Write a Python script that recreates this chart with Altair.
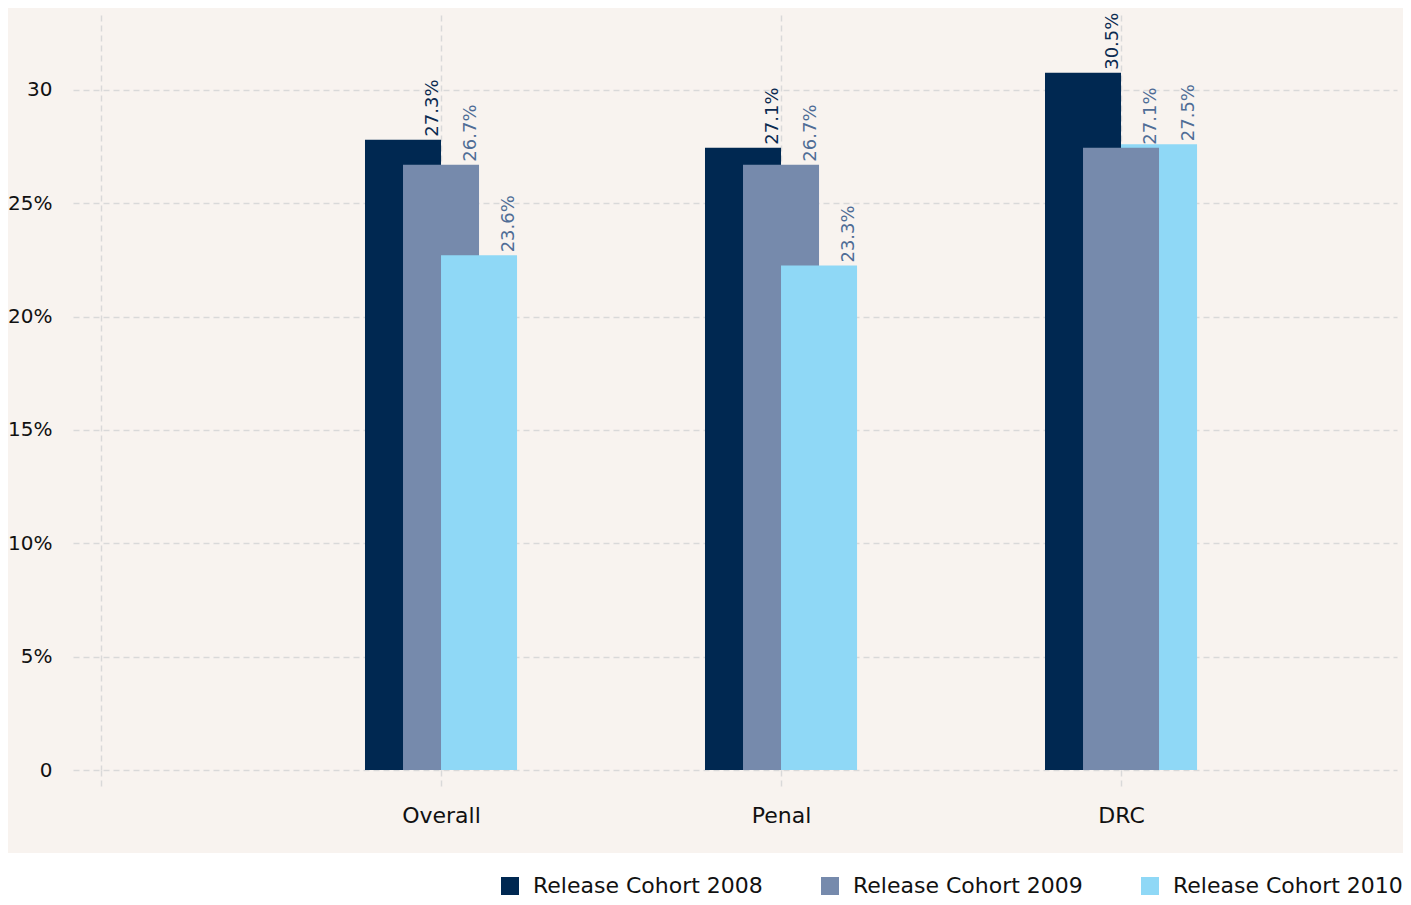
import altair as alt
import pandas as pd

# ---- data ----
categories = ["Overall", "Penal", "DRC"]
series = ["Release Cohort 2008", "Release Cohort 2009", "Release Cohort 2010"]
bar_2008 = [27.8, 27.45, 30.75]
bar_2009 = [26.7, 26.7, 27.45]
bar_2010 = [22.7, 22.25, 27.6]
label_2008 = ["27.3%", "27.1%", "30.5%"]
label_2009 = ["26.7%", "26.7%", "27.1%"]
label_2010 = ["23.6%", "23.3%", "27.5%"]
y_tick_values = [0, 5, 10, 15, 20, 25, 30]
y_tick_labels = ["0", "5%", "10%", "15%", "20%", "25%", "30"]

bar_colors = ["#002851", "#768aac", "#8fd8f6"]
label_colors = ["#0b2a50", "#4f6d96", "#4f6d96"]
BG = "#f8f3ef"
GRID = "#d9d9d9"
FONT = "DejaVu Sans"

rows = []
for s_i, (s, vals, labs) in enumerate(zip(series, [bar_2008, bar_2009, bar_2010],
                                          [label_2008, label_2009, label_2010])):
    for c_i, c in enumerate(categories):
        rows.append({"category": c, "cat_idx": c_i + 1, "series": s, "s_idx": s_i,
                     "value": vals[c_i], "label": labs[c_i]})
df = pd.DataFrame(rows)

x_label_expr = " : ".join(
    [f"datum.value == {i + 1} ? '{c}'" for i, c in enumerate(categories)]) + " : ''"
y_label_expr = " : ".join(
    [f"datum.value == {v} ? '{l}'" for v, l in zip(y_tick_values, y_tick_labels)]) + " : ''"

x_scale = alt.Scale(domain=[-0.0824, 3.8117], nice=False, zero=False)
y_scale = alt.Scale(domain=[0, 33.3], nice=False)

x_axis = alt.Axis(values=[0, 1, 2, 3], labelExpr=x_label_expr, title=None,
                  grid=True, gridColor=GRID, gridDash=[6, 4], gridWidth=1.5,
                  ticks=True, tickSize=18, tickColor=GRID, tickDash=[6, 4], tickWidth=1.5,
                  domain=False, labelFont=FONT, labelFontSize=22, labelColor="#111111",
                  labelPadding=17)
y_axis = alt.Axis(values=y_tick_values, labelExpr=y_label_expr, title=None,
                  grid=True, gridColor=GRID, gridDash=[6, 4], gridWidth=1.5,
                  ticks=False, domain=False, labelFont=FONT, labelFontSize=20,
                  labelColor="#111111", labelPadding=21)

base = alt.Chart(df).transform_calculate(
    center="datum.cat_idx + (datum.s_idx - 1) * 0.1118",
).transform_calculate(
    x0="datum.center - 0.1118",
    x1="datum.center + 0.1118",
    lx="datum.center + 0.103",
)

bars = base.mark_rect().encode(
    x=alt.X("x0:Q", scale=x_scale, axis=x_axis),
    x2="x1:Q",
    y=alt.Y("value:Q", scale=y_scale, axis=y_axis),
    y2=alt.datum(0),
    color=alt.Color("series:N", scale=alt.Scale(domain=series, range=bar_colors),
                    legend=alt.Legend(orient="none", legendX=426, legendY=860,
                                      direction="horizontal", title=None,
                                      symbolType="square", symbolSize=324,
                                      symbolStrokeWidth=0, symbolOpacity=1,
                                      labelFont=FONT, labelFontSize=22,
                                      labelColor="#111111", labelOffset=12,
                                      labelLimit=0, columnPadding=56, zindex=2)),
    order=alt.Order("value:Q", sort="descending"),
)

labels = base.mark_text(angle=270, align="left", baseline="alphabetic", dx=3,
                        font=FONT, fontSize=18).encode(
    x=alt.X("lx:Q", scale=x_scale),
    y=alt.Y("value:Q", scale=y_scale),
    text="label:N",
    color=alt.Color("series:N", scale=alt.Scale(domain=series, range=label_colors),
                    legend=None),
)

# white strip under the beige chart area (holds the legend)
white_strip = alt.Chart(pd.DataFrame({"d": [0]})).mark_rect(color="white").encode(
    x=alt.value(-65), x2=alt.value(1330), y=alt.value(838), y2=alt.value(900)
)

chart = alt.layer(white_strip, bars, labels).resolve_scale(color="independent").properties(
    width=1324, height=755,
    autosize=alt.AutoSizeParams(type="none"),
    padding={"left": 65, "top": 7, "right": 6, "bottom": 127},
    background=BG,
).configure_view(stroke=None)

chart.save("out.html", embed_options={"renderer": "svg", "actions": False})
